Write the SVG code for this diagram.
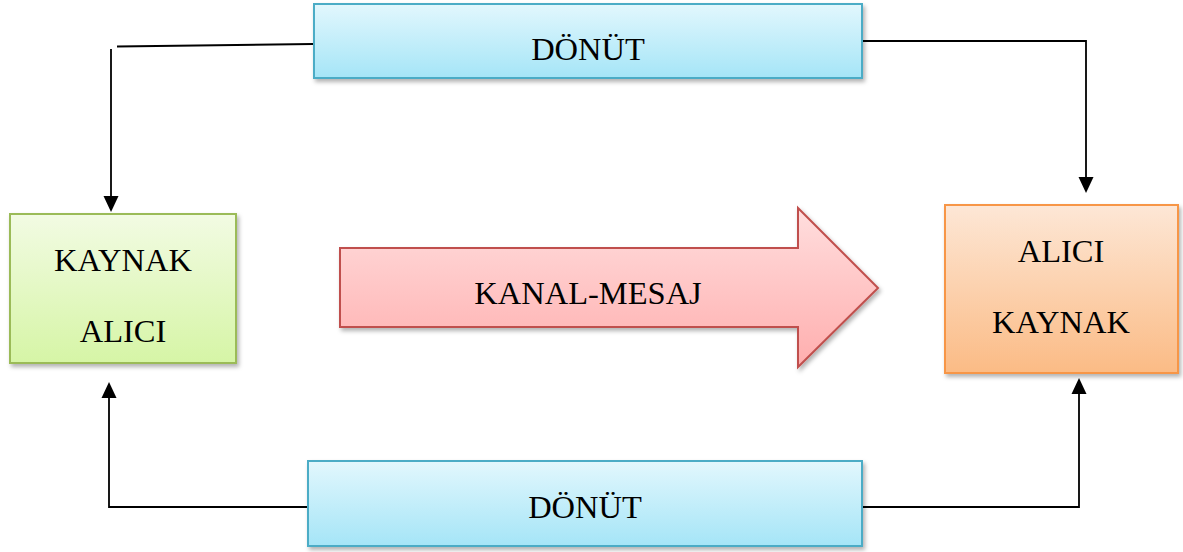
<svg xmlns="http://www.w3.org/2000/svg" width="1183" height="552" viewBox="0 0 1183 552">
  <style>
    .lbl { font-family: "Liberation Serif", "Times New Roman", serif; font-size: 32.5px; fill: #000; text-anchor: middle; }
    .wire { fill: none; stroke: #000; stroke-width: 1.8; }
    .tip { fill: #000; }
  </style>
  <defs>
    <linearGradient id="gCyan" x1="0" y1="0" x2="0" y2="1">
      <stop offset="0" stop-color="#e2f7fd"/>
      <stop offset="1" stop-color="#a5e5f7"/>
    </linearGradient>
    <linearGradient id="gGreen" x1="0" y1="0" x2="0" y2="1">
      <stop offset="0" stop-color="#f2fbe3"/>
      <stop offset="1" stop-color="#d6f5a6"/>
    </linearGradient>
    <linearGradient id="gOrange" x1="0" y1="0" x2="0" y2="1">
      <stop offset="0" stop-color="#fde7d6"/>
      <stop offset="1" stop-color="#fbbb85"/>
    </linearGradient>
    <linearGradient id="gRed" x1="0" y1="0" x2="0" y2="1">
      <stop offset="0" stop-color="#ffdede"/>
      <stop offset="1" stop-color="#ffaeae"/>
    </linearGradient>
    <filter id="shadow" x="-10%" y="-10%" width="130%" height="140%">
      <feDropShadow dx="2" dy="3" stdDeviation="2" flood-color="#000" flood-opacity="0.3"/>
    </filter>
  </defs>

  <!-- feedback connectors with filled triangle heads -->
  <g id="connectors">
    <line class="wire" x1="313" y1="44" x2="117" y2="46.5"/>
    <line class="wire" x1="111" y1="49" x2="111" y2="198"/>
    <path class="tip" d="M103.5,196 L118.5,196 L111,212 Z"/>
    <polyline class="wire" points="862,41 1086,41 1086,179"/>
    <path class="tip" d="M1078.5,177 L1093.5,177 L1086,193 Z"/>
    <polyline class="wire" points="862,507 1079,507 1079,392"/>
    <path class="tip" d="M1071.5,394 L1086.5,394 L1079,378 Z"/>
    <polyline class="wire" points="308,507 109,507 109,396"/>
    <path class="tip" d="M101.5,398 L116.5,398 L109,382 Z"/>
  </g>

  <g id="donut-top">
    <rect x="314" y="4" width="548" height="74" fill="url(#gCyan)" stroke="#4bacc6" stroke-width="2" filter="url(#shadow)"/>
    <text class="lbl" x="588" y="60">DÖNÜT</text>
  </g>

  <g id="kaynak-alici">
    <rect x="10" y="214" width="226" height="149" fill="url(#gGreen)" stroke="#9bbb59" stroke-width="2" filter="url(#shadow)"/>
    <text class="lbl" x="123" y="271">KAYNAK</text>
    <text class="lbl" x="123" y="342">ALICI</text>
  </g>

  <g id="kanal-mesaj">
    <path d="M340,248 L798,248 L798,208 L878,288 L798,367 L798,327 L340,327 Z" fill="url(#gRed)" stroke="#c0504d" stroke-width="2" filter="url(#shadow)"/>
    <text class="lbl" x="588" y="304">KANAL-MESAJ</text>
  </g>

  <g id="alici-kaynak">
    <rect x="945" y="205" width="233" height="168" fill="url(#gOrange)" stroke="#f79646" stroke-width="2" filter="url(#shadow)"/>
    <text class="lbl" x="1061" y="262">ALICI</text>
    <text class="lbl" x="1061" y="333">KAYNAK</text>
  </g>

  <g id="donut-bottom">
    <rect x="308" y="461" width="554" height="85" fill="url(#gCyan)" stroke="#4bacc6" stroke-width="2" filter="url(#shadow)"/>
    <text class="lbl" x="585" y="518">DÖNÜT</text>
  </g>
</svg>
